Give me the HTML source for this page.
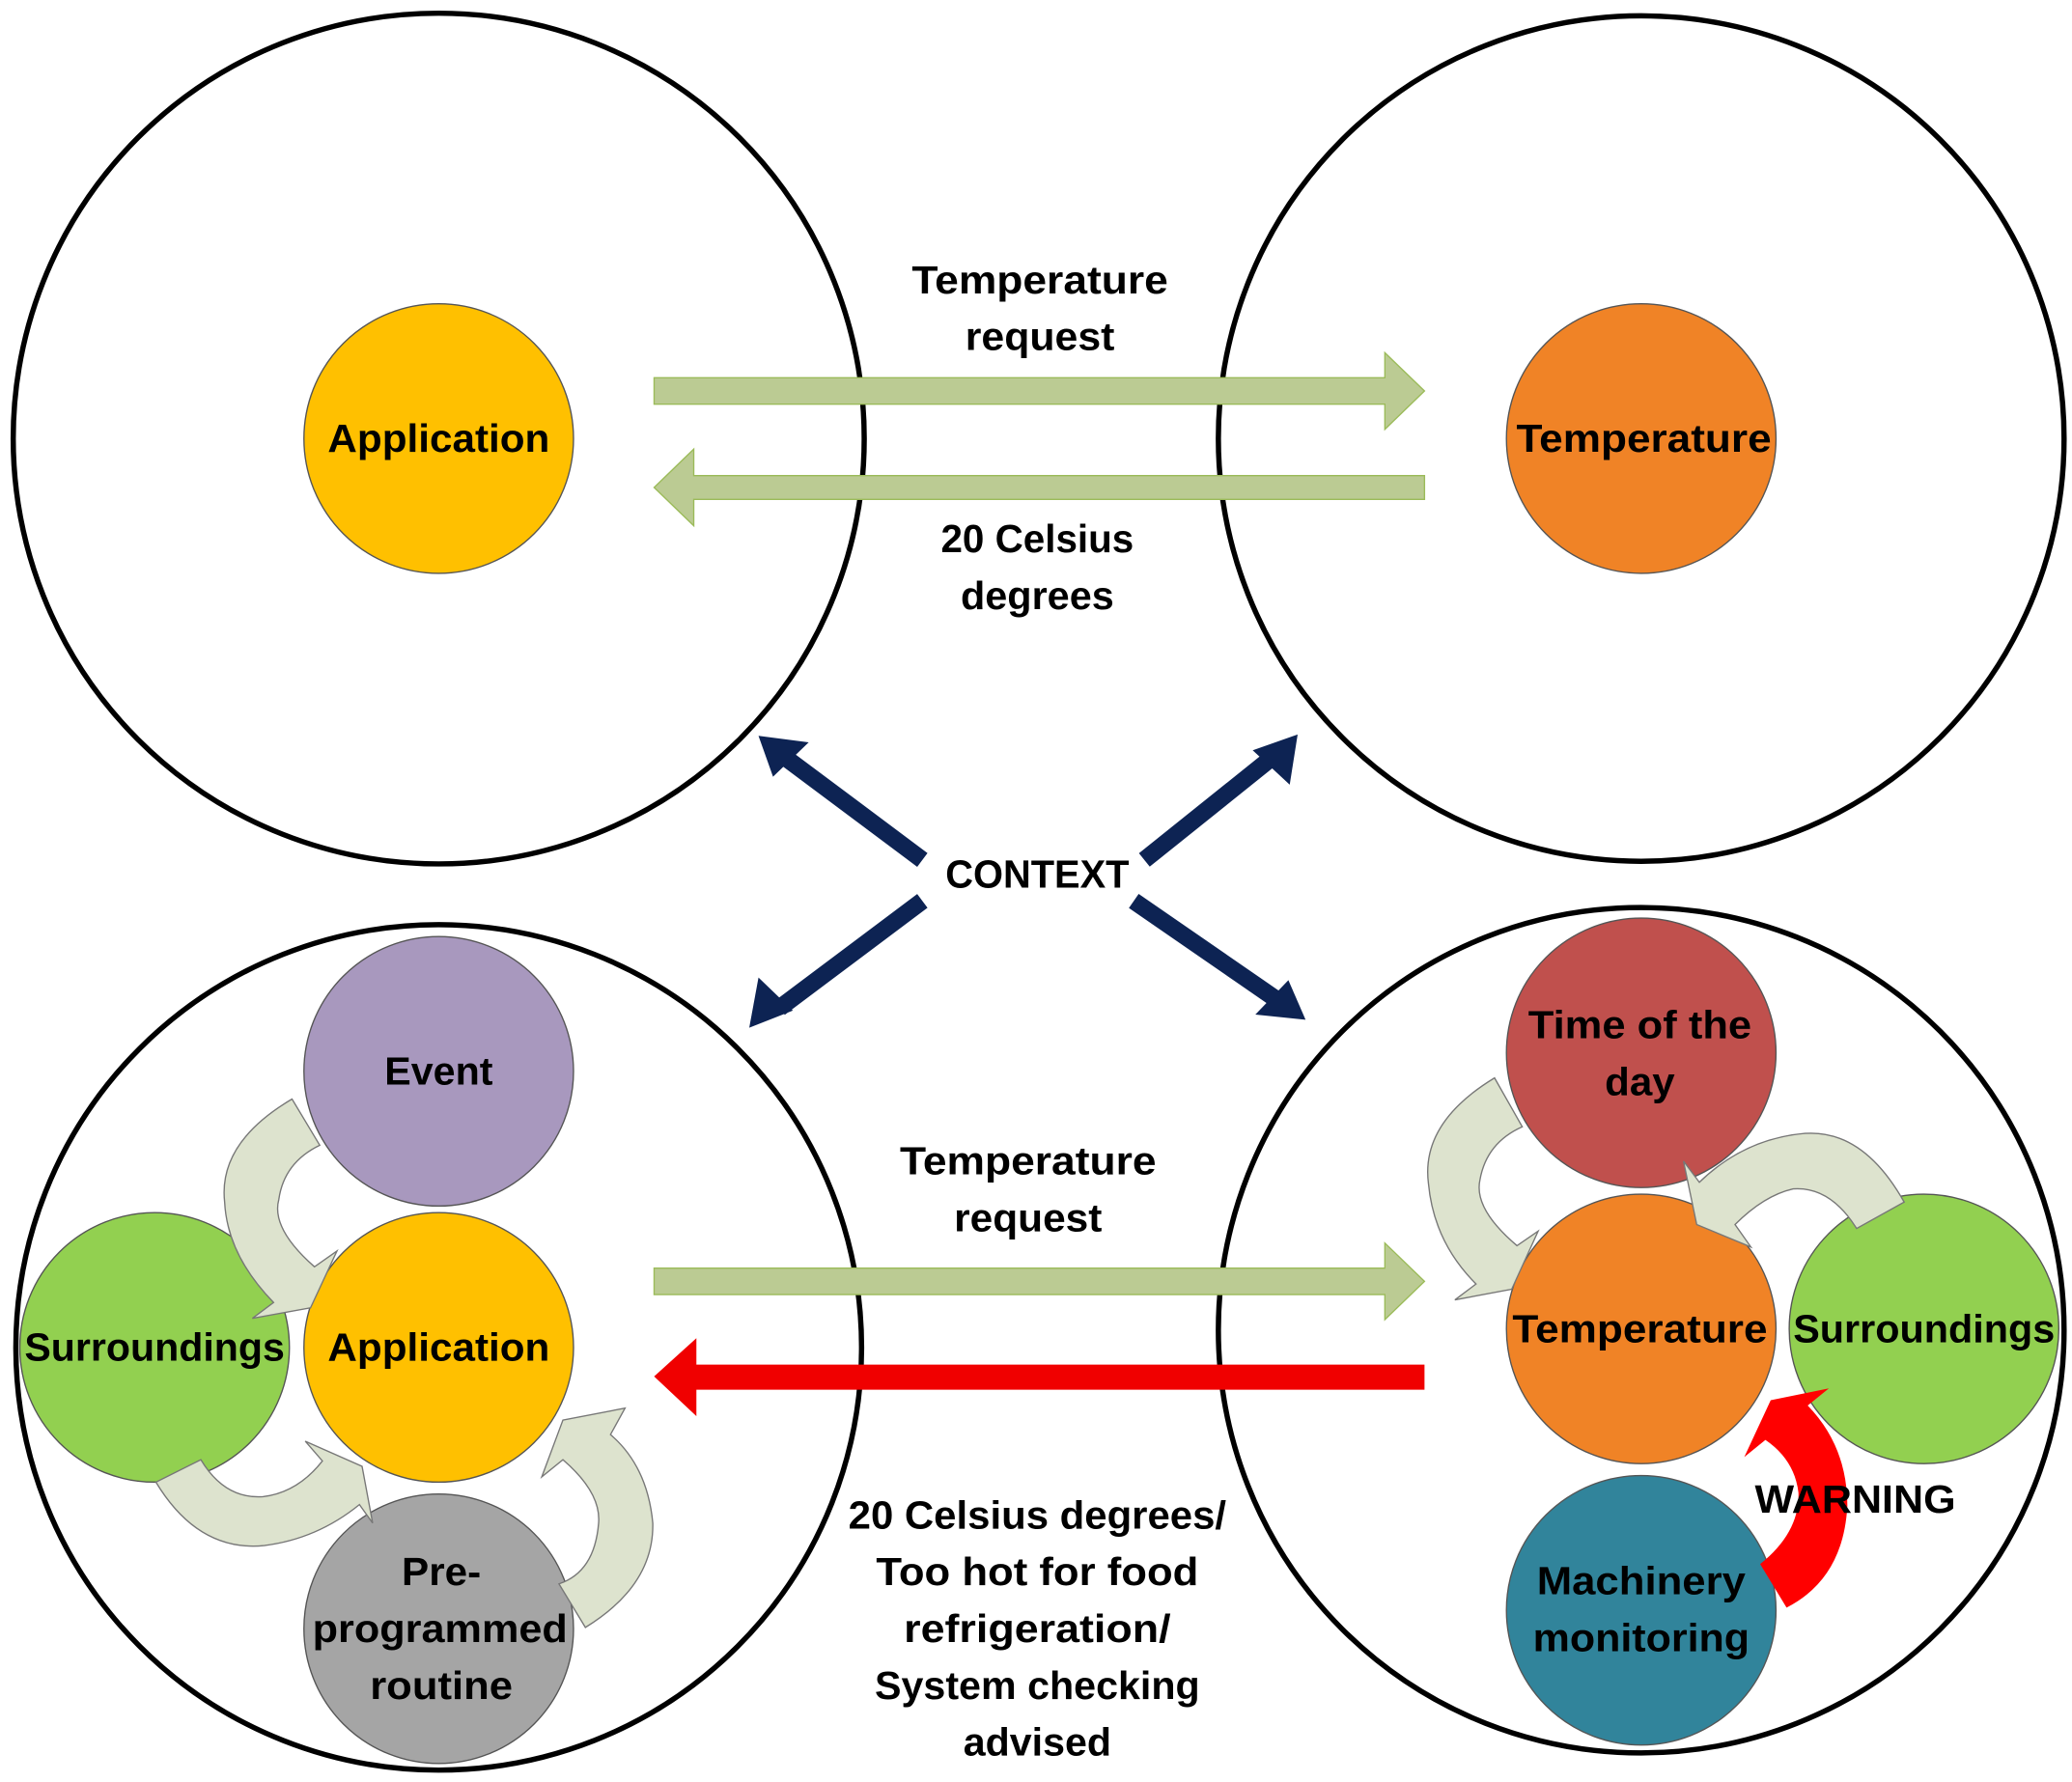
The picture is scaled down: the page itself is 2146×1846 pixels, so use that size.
<!DOCTYPE html>
<html><head><meta charset="utf-8"><style>
html,body{margin:0;padding:0;background:#fff;}
svg{display:block;}
text{font-family:"Liberation Sans",sans-serif;font-weight:bold;font-size:30px;fill:#000;text-anchor:middle;}
</style></head><body>
<svg width="2146" height="1846" viewBox="0 0 1568 1349" preserveAspectRatio="none" xmlns="http://www.w3.org/2000/svg">
<g fill="none" stroke="#000" stroke-width="4">
<ellipse cx="332" cy="332" rx="322" ry="322"/>
<ellipse cx="1242" cy="332" rx="320" ry="320"/>
<ellipse cx="332" cy="1020" rx="320" ry="320"/>
<ellipse cx="1242" cy="1007" rx="320" ry="320"/>
</g>
<g stroke="#9BBB59" stroke-width="1">
<polygon fill="#BBCB93" points="495,286 1048,286 1048,267 1078,296 1048,325 1048,306 495,306"/>
<polygon fill="#BBCB93" points="1078,360 525,360 525,340 495,369 525,398 525,378 1078,378"/>
<polygon fill="#BBCB93" points="495,960 1048,960 1048,941 1078,970 1048,999 1048,980 495,980"/>
</g>
<polygon fill="#F00000" points="1078,1033 527,1033 527,1013 495,1042 527,1072 527,1052 1078,1052"/>
<g stroke="#0D2353" stroke-width="13" fill="none">
<line x1="698" y1="651" x2="595" y2="574"/>
<line x1="866" y1="651" x2="962" y2="574"/>
<line x1="698" y1="682" x2="590" y2="763"/>
<line x1="858" y1="682" x2="968" y2="758"/>
</g>
<g fill="#0D2353">
<polygon points="574,557 612,562 585,588"/>
<polygon points="982,556 976,594 948,568"/>
<polygon points="567,778 574,740 600,765"/>
<polygon points="988,772 950,768 975,742"/>
</g>
<g stroke="#555" stroke-width="1">
<circle cx="332" cy="332" r="102" fill="#FFC000"/>
<circle cx="1242" cy="332" r="102" fill="#F08326"/>
<circle cx="332" cy="811" r="102" fill="#A898BE"/>
<circle cx="117" cy="1020" r="102" fill="#92D050"/>
<circle cx="332" cy="1020" r="102" fill="#FFC000"/>
<circle cx="332" cy="1233" r="102" fill="#A5A5A5"/>
<circle cx="1242" cy="797" r="102" fill="#C0504D"/>
<circle cx="1242" cy="1006" r="102" fill="#F08326"/>
<circle cx="1456" cy="1006" r="102" fill="#92D050"/>
<circle cx="1242" cy="1219" r="102" fill="#31849B"/>
</g>
<g fill="#DDE3CE" stroke="#777" stroke-width="1">
<path d="M221,832 Q165,865 170,910 Q172,950 207,986 L191,998 L235,990 L255,947 L238,959 Q205,930 211,908 Q215,880 242,867 Z"/>
<path d="M118,1122 Q150,1175 200,1170 Q240,1165 272,1139 L282,1153 L274,1110 L231,1091 L244,1106 Q225,1130 199,1133 Q170,1135 152,1105 Z"/>
<path d="M443,1232 Q495,1200 494,1153 Q490,1110 462,1086 L473,1066 L426,1075 L410,1118 L426,1105 Q455,1130 453,1153 Q450,1190 423,1199 Z"/>
<path d="M1131,816 Q1075,850 1081,896 Q1085,940 1117,972 L1101,984 L1144,976 L1164,932 L1148,943 Q1115,915 1120,893 Q1125,865 1152,853 Z"/>
<path d="M1441,910 Q1410,855 1366,858 Q1320,862 1286,895 L1274,879 L1284,927 L1325,944 L1313,927 Q1335,905 1357,900 Q1385,898 1405,930 Z"/>
</g>
<path fill="#FF0000" d="M1332,1184 Q1362,1160 1361,1130 Q1358,1105 1336,1090 L1320,1103 L1340,1060 L1384,1051 L1368,1064 Q1398,1095 1398,1140 Q1395,1195 1352,1217 Z"/>
<text x="787" y="222" textLength="194" lengthAdjust="spacingAndGlyphs">Temperature</text>
<text x="787" y="265" textLength="113" lengthAdjust="spacingAndGlyphs">request</text>
<text x="332" y="342" textLength="168" lengthAdjust="spacingAndGlyphs">Application</text>
<text x="1244" y="342" textLength="193" lengthAdjust="spacingAndGlyphs">Temperature</text>
<text x="785" y="418" textLength="146" lengthAdjust="spacingAndGlyphs">20 Celsius</text>
<text x="785" y="461" textLength="116" lengthAdjust="spacingAndGlyphs">degrees</text>
<text x="785" y="672" textLength="139" lengthAdjust="spacingAndGlyphs">CONTEXT</text>
<text x="332" y="821" textLength="82" lengthAdjust="spacingAndGlyphs">Event</text>
<text x="117" y="1030" textLength="197" lengthAdjust="spacingAndGlyphs">Surroundings</text>
<text x="332" y="1030" textLength="168" lengthAdjust="spacingAndGlyphs">Application</text>
<text x="334" y="1200" textLength="60" lengthAdjust="spacingAndGlyphs">Pre-</text>
<text x="333" y="1243" textLength="193" lengthAdjust="spacingAndGlyphs">programmed</text>
<text x="334" y="1286" textLength="108" lengthAdjust="spacingAndGlyphs">routine</text>
<text x="778" y="889" textLength="194" lengthAdjust="spacingAndGlyphs">Temperature</text>
<text x="778" y="932" textLength="112" lengthAdjust="spacingAndGlyphs">request</text>
<text x="785" y="1157" textLength="286" lengthAdjust="spacingAndGlyphs">20 Celsius degrees/</text>
<text x="785" y="1200" textLength="244" lengthAdjust="spacingAndGlyphs">Too hot for food</text>
<text x="785" y="1243" textLength="202" lengthAdjust="spacingAndGlyphs">refrigeration/</text>
<text x="785" y="1286" textLength="246" lengthAdjust="spacingAndGlyphs">System checking</text>
<text x="785" y="1329" textLength="112" lengthAdjust="spacingAndGlyphs">advised</text>
<text x="1241" y="786" textLength="169" lengthAdjust="spacingAndGlyphs">Time of the</text>
<text x="1241" y="829" textLength="53" lengthAdjust="spacingAndGlyphs">day</text>
<text x="1241" y="1016" textLength="193" lengthAdjust="spacingAndGlyphs">Temperature</text>
<text x="1456" y="1016" textLength="198" lengthAdjust="spacingAndGlyphs">Surroundings</text>
<text x="1404" y="1145" textLength="152" lengthAdjust="spacingAndGlyphs">WARNING</text>
<text x="1242" y="1207" textLength="158" lengthAdjust="spacingAndGlyphs">Machinery</text>
<text x="1242" y="1250" textLength="164" lengthAdjust="spacingAndGlyphs">monitoring</text>
</svg>
</body></html>
